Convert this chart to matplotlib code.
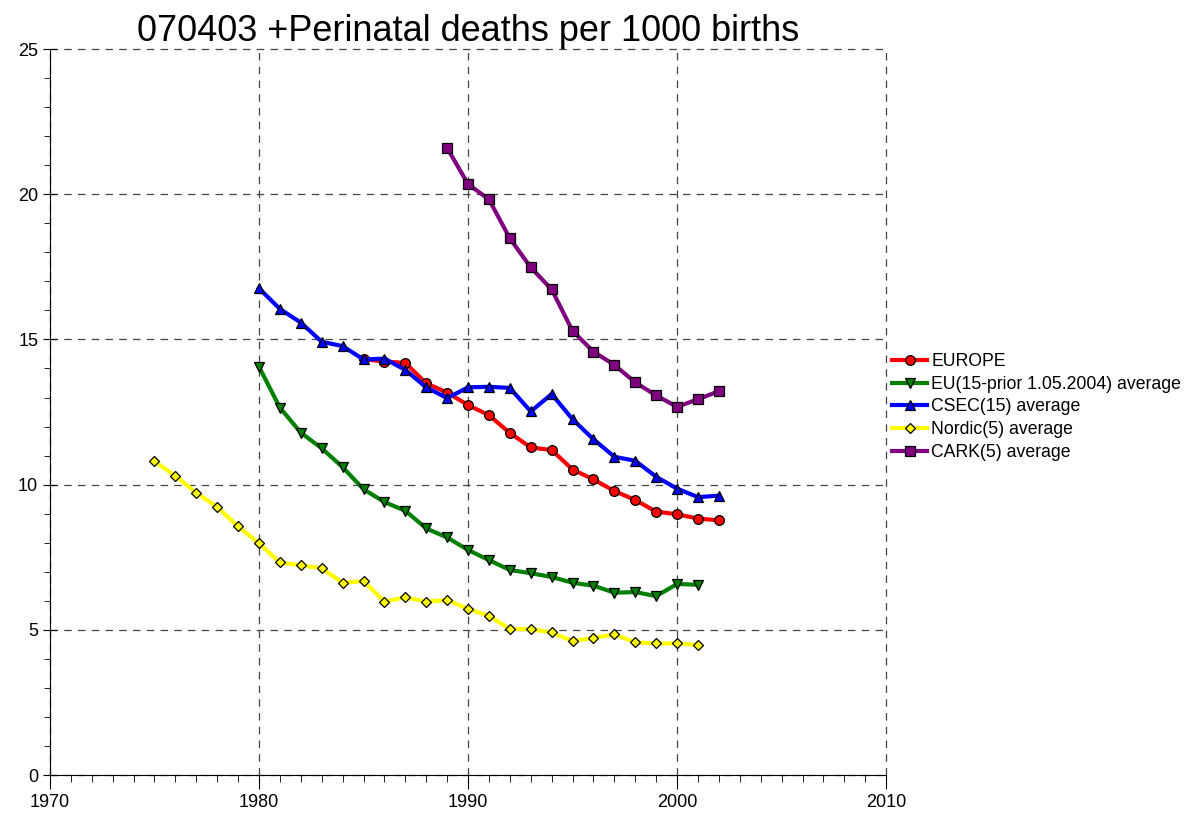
import numpy as np
import matplotlib
matplotlib.use('Agg')
import matplotlib.pyplot as plt
from matplotlib.ticker import MultipleLocator

plt.rcParams['font.family'] = ['Liberation Sans', 'DejaVu Sans']

# data
europe_years = list(range(1985, 2003))
europe = [14.32, 14.24, 14.19, 13.49, 13.17, 12.74, 12.39, 11.78, 11.28, 11.19,
          10.52, 10.18, 9.78, 9.47, 9.07, 8.98, 8.83, 8.77]

eu15_years = list(range(1980, 2002))
eu15 = [14.06, 12.65, 11.79, 11.25, 10.60, 9.84, 9.40, 9.10, 8.49, 8.18, 7.75,
        7.40, 7.06, 6.95, 6.82, 6.62, 6.52, 6.28, 6.30, 6.16, 6.58, 6.55]

csec_years = list(range(1980, 2003))
csec = [16.76, 16.05, 15.58, 14.92, 14.77, 14.31, 14.34, 13.95, 13.35, 12.98,
        13.35, 13.37, 13.33, 12.52, 13.12, 12.25, 11.56, 10.96, 10.82, 10.27,
        9.86, 9.57, 9.62]

nordic_years = list(range(1975, 2002))
nordic = [10.80, 10.30, 9.72, 9.23, 8.56, 7.98, 7.32, 7.22, 7.12, 6.62, 6.68,
          5.97, 6.12, 5.97, 6.03, 5.72, 5.48, 5.03, 5.02, 4.91, 4.61, 4.72,
          4.84, 4.57, 4.53, 4.53, 4.48]

cark_years = list(range(1989, 2003))
cark = [21.59, 20.35, 19.82, 18.48, 17.48, 16.72, 15.29, 14.58, 14.12, 13.52,
        13.07, 12.68, 12.94, 13.22]

series = [
    ('EUROPE', europe_years, europe, '#ff0000', 'o', 7),
    ('EU(15-prior 1.05.2004) average', eu15_years, eu15, '#008000', 'v', 7),
    ('CSEC(15) average', csec_years, csec, '#0000ff', '^', 7),
    ('Nordic(5) average', nordic_years, nordic, '#ffff00', 'D', 4.8),
    ('CARK(5) average', cark_years, cark, '#800080', 's', 6.5),
]

fig = plt.figure(figsize=(11.98, 8.19), dpi=100)
ax = fig.add_axes([0.0417, 0.0537, 0.698, 0.8864])

for label, xs, ys, col, mk, ms in series:
    ax.plot(xs, ys, color=col, linewidth=3, marker=mk, markersize=ms,
            markerfacecolor=col, markeredgecolor='black', markeredgewidth=0.9,
            label=label)

ax.set_xlim(1970, 2010)
ax.set_ylim(0, 25)
ax.xaxis.set_major_locator(MultipleLocator(10))
ax.xaxis.set_minor_locator(MultipleLocator(1))
ax.yaxis.set_major_locator(MultipleLocator(5))
ax.yaxis.set_minor_locator(MultipleLocator(1))

ax.spines['top'].set_visible(False)
ax.spines['right'].set_visible(False)
ax.grid(True, which='major', color='#444444', linestyle=(0, (6, 5)), linewidth=0.9)
for gl in ax.get_xgridlines() + ax.get_ygridlines():
    gl.set_clip_on(False)
ax.set_axisbelow(True)

ax.tick_params(axis='x', which='major', direction='out', length=10, labelsize=13)
ax.tick_params(axis='x', which='minor', direction='out', length=5)
ax.tick_params(axis='y', which='major', direction='inout', length=10, labelsize=13)
ax.tick_params(axis='y', which='minor', direction='out', length=4)

ax.set_title('070403 +Perinatal deaths per 1000 births', fontsize=26, pad=6)

ax.legend(loc='center left', bbox_to_anchor=(1.003, 0.507), frameon=False,
          fontsize=12.7, handlelength=2.0, handletextpad=0.2, labelspacing=0.32,
          borderaxespad=0, borderpad=0.2)

fig.savefig('out.png', dpi=100)
